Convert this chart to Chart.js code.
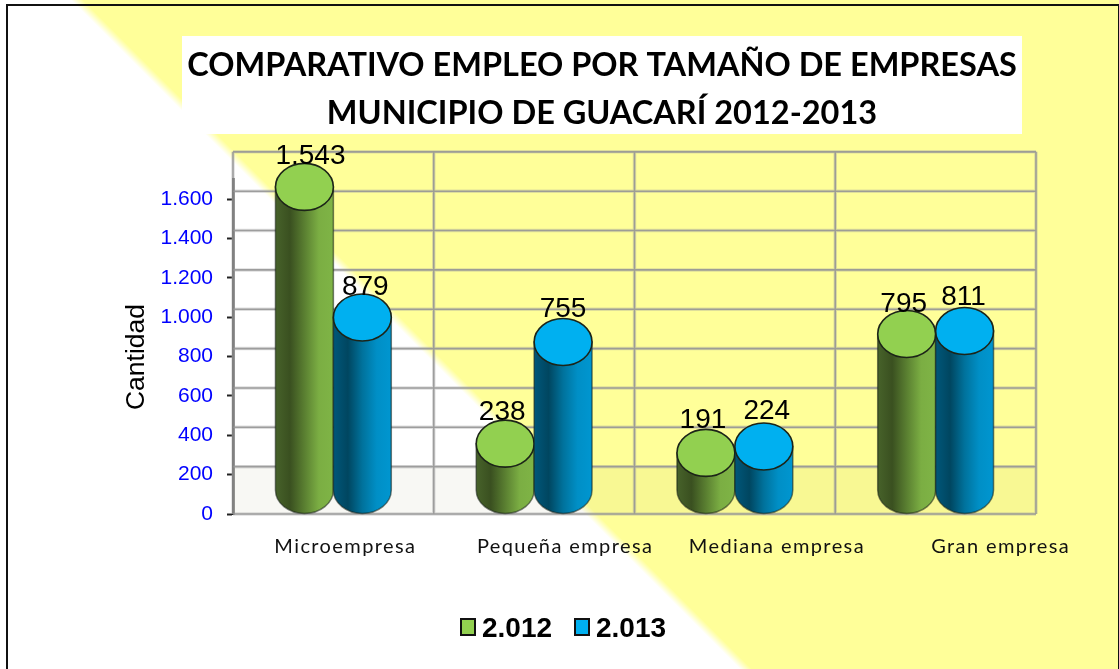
<!DOCTYPE html>
<html>
<head>
<meta charset="utf-8">
<title>Comparativo empleo</title>
<script src="https://cdn.jsdelivr.net/npm/chart.js@4/dist/chart.umd.js"></script>
<style>
  html, body { margin: 0; padding: 0; background: #fff; }
  canvas { display: block; }
</style>
</head>
<body>
<canvas id="empleoChart" width="1119" height="669"></canvas>
<script>
// ===== DATA =====
const categories = ['Microempresa', 'Pequeña empresa', 'Mediana empresa', 'Gran empresa'];
const seriesNames = ['2.012', '2.013'];
const values2012 = [1543, 238, 191, 795];
const values2013 = [879, 755, 224, 811];
const yTickValues = [0, 200, 400, 600, 800, 1000, 1200, 1400, 1600];
const yTickLabels = ['0', '200', '400', '600', '800', '1.000', '1.200', '1.400', '1.600'];
const wallLines = [200, 400, 600, 800, 1000, 1200, 1400, 1600, 1800];
const titleLines = ['COMPARATIVO EMPLEO POR TAMAÑO DE EMPRESAS', 'MUNICIPIO DE GUACARÍ 2012-2013'];
const yAxisTitle = 'Cantidad';

// ===== STYLE =====
const ARIAL = '"Liberation Sans", Arial, sans-serif';
const CALIBRI = 'Lato, "Open Sans", sans-serif';
const TOP_RY = 23.5;    // half height of the cylinder ellipses
const WALL_LIFT = 8;    // back wall sits a little above the tick marks
const seriesStyle = [
    { top: '#92D050', stops: ['#47622a', '#3a5020', '#5a7f31', '#7bae43', '#7fb446'] },
    { top: '#00B0F0', stops: ['#00577a', '#004660', '#00729c', '#008fc6', '#0096d0'] }
];
// original labels were moved by hand in the chart, so they are not centred
const xLabelShift = [12, 31, 42, 65];
const dataLabelShiftX = [[6, -3, -3, -3], [3, 0, 3, -1]];
const dataLabelShiftY = [[0, -1, -2, 0], [0, -2, -5, -3]];

function fmt(v) {
    return String(v).replace(/\B(?=(\d{3})+$)/g, '.');
}

// ===== PLUGINS =====
const backdrop = {
    id: 'backdrop',
    beforeDraw(chart) {
        const ctx = chart.ctx;
        const w = chart.width, h = chart.height;
        // diagonal white / yellow split
        const g = ctx.createLinearGradient(372, 301, 378, 295);
        g.addColorStop(0, '#ffffff');
        g.addColorStop(1, '#ffff99');
        ctx.fillStyle = g;
        ctx.fillRect(0, 0, w, h);
        // white box behind the title
        ctx.fillStyle = '#ffffff';
        ctx.fillRect(182, 36, 840, 98);
        // frame
        ctx.strokeStyle = '#111';
        ctx.lineWidth = 2;
        ctx.strokeRect(7, 5, w - 7, h);
    }
};

const wall = {
    id: 'wall',
    beforeDatasetsDraw(chart) {
        const ctx = chart.ctx;
        const y = chart.scales.y;
        const a = chart.chartArea;
        const base = y.getPixelForValue(0);
        const top = y.getPixelForValue(1800) - WALL_LIFT;
        ctx.save();
        // floor band
        ctx.fillStyle = 'rgba(120,120,40,0.05)';
        const floorTop = y.getPixelForValue(200) - WALL_LIFT + 1;
        ctx.fillRect(a.left, floorTop, a.width, base - floorTop);
        ctx.beginPath();
        wallLines.forEach(v => {
            const py = y.getPixelForValue(v) - WALL_LIFT;
            ctx.moveTo(a.left, py);
            ctx.lineTo(a.right, py);
        });
        ctx.moveTo(a.left, base);
        ctx.lineTo(a.right, base);
        const step = a.width / categories.length;
        for (let i = 0; i <= categories.length; i++) {
            ctx.moveTo(a.left + i * step, top);
            ctx.lineTo(a.left + i * step, base);
        }
        // soft halo first, the line itself after
        ctx.strokeStyle = 'rgba(160,160,160,0.35)';
        ctx.lineWidth = 3.5;
        ctx.stroke();
        ctx.strokeStyle = 'rgba(150,150,150,0.9)';
        ctx.lineWidth = 1.6;
        ctx.stroke();
        ctx.restore();
    }
};

const cylinders = {
    id: 'cylinders',
    afterDatasetsDraw(chart) {
        const ctx = chart.ctx;
        ctx.save();
        chart.data.datasets.forEach((ds, d) => {
            const st = seriesStyle[d];
            chart.getDatasetMeta(d).data.forEach((bar, i) => {
                const rx = bar.width / 2;
                const yTop = bar.y - TOP_RY;
                const yBot = bar.base - TOP_RY;
                const g = ctx.createLinearGradient(bar.x - rx, 0, bar.x + rx, 0);
                st.stops.forEach((c, k) => g.addColorStop(k / (st.stops.length - 1), c));
                ctx.beginPath();
                ctx.moveTo(bar.x - rx, yTop);
                ctx.lineTo(bar.x - rx, yBot);
                ctx.ellipse(bar.x, yBot, rx, TOP_RY, 0, Math.PI, 0, true);
                ctx.lineTo(bar.x + rx, yTop);
                ctx.closePath();
                ctx.fillStyle = g;
                ctx.fill();
                ctx.strokeStyle = 'rgba(20,30,20,0.55)';
                ctx.lineWidth = 1.5;
                ctx.stroke();
                ctx.beginPath();
                ctx.ellipse(bar.x, yTop, rx, TOP_RY, 0, 0, Math.PI * 2);
                ctx.fillStyle = st.top;
                ctx.fill();
                ctx.strokeStyle = '#1c2418';
                ctx.lineWidth = 1.6;
                ctx.stroke();
            });
        });
        // value labels go on top of all the cylinders
        ctx.fillStyle = '#000';
        ctx.font = '28px ' + ARIAL;
        ctx.textAlign = 'center';
        ctx.textBaseline = 'alphabetic';
        chart.data.datasets.forEach((ds, d) => {
            chart.getDatasetMeta(d).data.forEach((bar, i) => {
                ctx.fillText(fmt(ds.data[i]), bar.x + dataLabelShiftX[d][i], bar.y - 2 * TOP_RY + 1 + dataLabelShiftY[d][i]);
            });
        });
        ctx.restore();
    }
};

const axisTexts = {
    id: 'axisTexts',
    afterDraw(chart) {
        const ctx = chart.ctx;
        const x = chart.scales.x;
        ctx.save();
        ctx.fillStyle = '#111';
        ctx.font = '20px ' + CALIBRI;
        ctx.letterSpacing = '1.4px';
        ctx.textAlign = 'center';
        ctx.textBaseline = 'middle';
        categories.forEach((c, i) => {
            ctx.fillText(c, x.getPixelForValue(i) + xLabelShift[i], 547);
        });
        ctx.restore();
        // y title sits lower than the middle of the axis in the original
        ctx.save();
        ctx.translate(137, 357);
        ctx.rotate(-Math.PI / 2);
        ctx.fillStyle = '#000';
        ctx.font = '26.5px ' + ARIAL;
        ctx.textAlign = 'center';
        ctx.textBaseline = 'middle';
        ctx.fillText(yAxisTitle, 0, 0);
        ctx.restore();
    }
};

const bottomLegend = {
    id: 'bottomLegend',
    afterDraw(chart) {
        const ctx = chart.ctx;
        const boxX = [461, 575];
        ctx.save();
        ctx.font = 'bold 28px ' + ARIAL;
        ctx.textBaseline = 'middle';
        chart.data.datasets.forEach((ds, d) => {
            ctx.fillStyle = seriesStyle[d].top;
            ctx.strokeStyle = '#111';
            ctx.lineWidth = 2;
            ctx.fillRect(boxX[d], 619, 14, 16);
            ctx.strokeRect(boxX[d], 619, 14, 16);
            ctx.fillStyle = '#000';
            ctx.fillText(ds.label, boxX[d] + 21, 629);
        });
        ctx.restore();
    }
};

// ===== CHART =====
new Chart(document.getElementById('empleoChart'), {
    type: 'bar',
    data: {
        labels: categories,
        datasets: [
            { label: seriesNames[0], data: values2012, backgroundColor: 'transparent' },
            { label: seriesNames[1], data: values2013, backgroundColor: 'transparent' }
        ]
    },
    plugins: [backdrop, wall, cylinders, axisTexts, bottomLegend],
    options: {
        responsive: false,
        animation: false,
        layout: { padding: { left: 85, right: 0, top: 0, bottom: 147 } },
        datasets: { bar: { categoryPercentage: 0.577, barPercentage: 1 } },
        plugins: {
            legend: { display: false },
            tooltip: { enabled: false },
            title: {
                display: true,
                text: titleLines,
                color: '#000',
                font: { family: CALIBRI, size: 32.5, weight: 'bold', lineHeight: 1.477 },
                padding: { top: 42, bottom: 41.5 }
            }
        },
        scales: {
            x: {
                grid: { display: false },
                border: { display: false },
                ticks: { display: false }
            },
            y: {
                min: 0,
                max: 1700,
                afterBuildTicks(scale) {
                    scale.ticks = yTickValues.map(v => ({ value: v }));
                },
                afterFit(scale) {
                    scale.width = 148;
                },
                border: { display: true, color: '#222', width: 2.5 },
                grid: { drawOnChartArea: false, drawTicks: true, tickLength: 6, tickColor: '#222', tickWidth: 2 },
                ticks: {
                    color: '#0000ff',
                    padding: 14,
                    font: { family: ARIAL, size: 21 },
                    callback(value) {
                        return yTickLabels[yTickValues.indexOf(value)];
                    }
                }
            },
            // empty axis, only keeps the plot clear of the right side
            yRight: {
                position: 'right',
                display: true,
                grid: { display: false },
                border: { display: false },
                ticks: { display: false },
                afterFit(scale) {
                    scale.width = 83;
                }
            }
        }
    }
});
</script>
</body>
</html>
